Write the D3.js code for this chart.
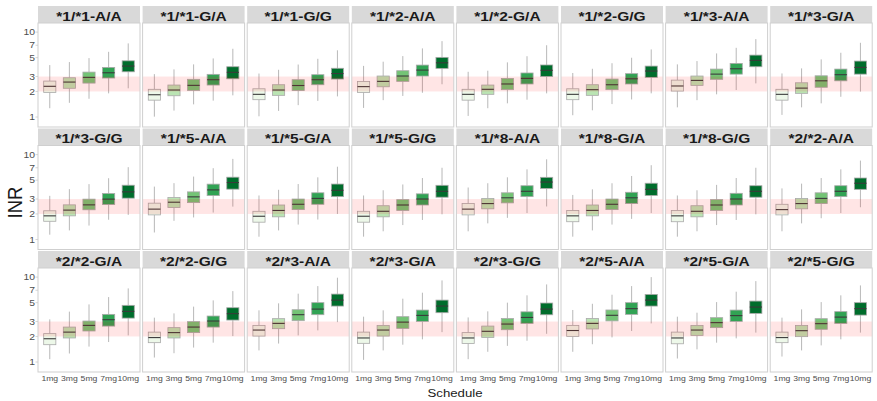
<!DOCTYPE html>
<html>
<head>
<meta charset="utf-8">
<script src="https://cdn.jsdelivr.net/npm/d3@7"></script>
<style>
  html, body { margin: 0; padding: 0; background: #ffffff; }
  svg { display: block; }
</style>
</head>
<body>
<svg id="chart" width="877" height="401"></svg>
<script>
// Genotype panels, in facet order (8 per row)
const panels = [
  "*1/*1-A/A", "*1/*1-G/A", "*1/*1-G/G", "*1/*2-A/A", "*1/*2-G/A", "*1/*2-G/G", "*1/*3-A/A", "*1/*3-G/A",
  "*1/*3-G/G", "*1/*5-A/A", "*1/*5-G/A", "*1/*5-G/G", "*1/*8-A/A", "*1/*8-G/A", "*1/*8-G/G", "*2/*2-A/A",
  "*2/*2-G/A", "*2/*2-G/G", "*2/*3-A/A", "*2/*3-G/A", "*2/*3-G/G", "*2/*5-A/A", "*2/*5-G/A", "*2/*5-G/G"
];
const doses = ["1mg", "3mg", "5mg", "7mg", "10mg"];
const yTicks = [1, 2, 3, 5, 7, 10];
const targetRange = [2, 3];

// Box statistics per panel (rows) and dose (columns): INR
const whiskerLow = [
  [1.27, 1.47, 1.64, 1.90, 2.18], [1.01, 1.19, 1.41, 1.56, 1.80], [1.02, 1.18, 1.38, 1.55, 1.75], [1.28, 1.58, 1.77, 1.93, 2.43],
  [1.03, 1.27, 1.45, 1.60, 1.90], [1.05, 1.20, 1.42, 1.61, 1.90], [1.30, 1.58, 1.85, 2.08, 2.49], [1.06, 1.30, 1.45, 1.73, 1.99],
  [1.14, 1.28, 1.46, 1.71, 1.95], [1.21, 1.66, 1.82, 2.08, 2.44], [1.08, 1.28, 1.50, 1.72, 2.00], [1.08, 1.25, 1.48, 1.70, 1.98],
  [1.25, 1.55, 1.80, 2.05, 2.45], [1.08, 1.28, 1.50, 1.75, 2.05], [1.08, 1.25, 1.48, 1.70, 1.98], [1.25, 1.55, 1.78, 2.05, 2.40],
  [1.08, 1.26, 1.52, 1.72, 2.06], [1.13, 1.27, 1.48, 1.69, 2.02], [1.37, 1.65, 2.06, 2.36, 2.95], [1.06, 1.37, 1.60, 1.85, 2.25],
  [1.08, 1.32, 1.55, 1.78, 2.15], [1.32, 1.62, 1.95, 2.32, 2.85], [1.10, 1.41, 1.69, 1.90, 2.22], [1.16, 1.37, 1.57, 1.85, 2.22]
];
const quartile1 = [
  [1.95, 2.18, 2.51, 2.88, 3.41], [1.58, 1.78, 2.06, 2.38, 2.82], [1.60, 1.80, 2.05, 2.40, 2.80], [1.95, 2.27, 2.63, 3.04, 3.74],
  [1.58, 1.85, 2.10, 2.45, 3.00], [1.60, 1.80, 2.10, 2.45, 2.93], [2.02, 2.36, 2.78, 3.20, 3.91], [1.58, 1.90, 2.24, 2.67, 3.20],
  [1.64, 1.90, 2.24, 2.58, 3.07], [1.95, 2.38, 2.72, 3.29, 3.92], [1.60, 1.85, 2.25, 2.60, 3.20], [1.60, 1.85, 2.20, 2.55, 3.15],
  [1.95, 2.30, 2.70, 3.20, 4.00], [1.62, 1.90, 2.25, 2.65, 3.30], [1.62, 1.85, 2.20, 2.55, 3.15], [1.95, 2.30, 2.65, 3.20, 3.90],
  [1.60, 1.92, 2.32, 2.65, 3.29], [1.69, 1.92, 2.22, 2.58, 3.12], [2.02, 2.47, 3.07, 3.61, 4.56], [1.66, 2.02, 2.49, 3.01, 3.81],
  [1.65, 1.95, 2.40, 2.85, 3.60], [2.00, 2.45, 3.05, 3.64, 4.56], [1.64, 2.06, 2.54, 3.01, 3.74], [1.69, 1.99, 2.43, 2.85, 3.57]
];
const median = [
  [2.30, 2.58, 2.93, 3.32, 3.98], [1.83, 2.08, 2.36, 2.75, 3.36], [1.85, 2.08, 2.35, 2.75, 3.25], [2.28, 2.63, 3.04, 3.57, 4.35],
  [1.85, 2.12, 2.45, 2.85, 3.55], [1.85, 2.10, 2.40, 2.82, 3.48], [2.32, 2.70, 3.20, 3.70, 4.65], [1.85, 2.19, 2.67, 3.15, 3.84],
  [1.90, 2.22, 2.56, 2.99, 3.64], [2.28, 2.75, 3.18, 3.84, 4.69], [1.88, 2.20, 2.60, 3.05, 3.80], [1.88, 2.15, 2.55, 3.00, 3.70],
  [2.28, 2.65, 3.10, 3.70, 4.75], [1.90, 2.20, 2.60, 3.10, 3.90], [1.90, 2.15, 2.55, 3.00, 3.70], [2.25, 2.65, 3.05, 3.70, 4.60],
  [1.88, 2.25, 2.70, 3.15, 3.95], [1.94, 2.22, 2.58, 3.04, 3.71], [2.38, 2.85, 3.61, 4.20, 5.36], [1.92, 2.38, 2.95, 3.54, 4.56],
  [1.92, 2.30, 2.80, 3.35, 4.20], [2.35, 2.85, 3.55, 4.25, 5.36], [1.92, 2.38, 2.91, 3.52, 4.44], [1.94, 2.34, 2.83, 3.38, 4.25]
];
const quartile3 = [
  [2.65, 2.90, 3.38, 3.84, 4.59], [2.12, 2.38, 2.78, 3.18, 3.91], [2.15, 2.40, 2.75, 3.15, 3.75], [2.62, 3.04, 3.51, 4.09, 5.04],
  [2.12, 2.38, 2.85, 3.30, 4.10], [2.15, 2.40, 2.80, 3.24, 3.98], [2.72, 3.04, 3.67, 4.28, 5.36], [2.12, 2.53, 3.06, 3.67, 4.56],
  [2.18, 2.56, 2.99, 3.48, 4.36], [2.68, 3.12, 3.64, 4.49, 5.42], [2.15, 2.55, 3.00, 3.55, 4.50], [2.15, 2.50, 2.95, 3.45, 4.35],
  [2.65, 3.05, 3.55, 4.30, 5.40], [2.20, 2.55, 3.00, 3.60, 4.60], [2.20, 2.50, 2.95, 3.50, 4.30], [2.60, 3.05, 3.55, 4.30, 5.30],
  [2.16, 2.58, 3.04, 3.64, 4.65], [2.25, 2.54, 2.99, 3.48, 4.36], [2.70, 3.24, 4.13, 5.00, 6.31], [2.25, 2.70, 3.42, 4.09, 5.36],
  [2.22, 2.65, 3.25, 3.90, 4.95], [2.70, 3.25, 4.10, 5.00, 6.25], [2.25, 2.70, 3.33, 4.09, 5.22], [2.25, 2.70, 3.24, 3.92, 5.00]
];
const whiskerHigh = [
  [4.09, 4.44, 4.94, 5.86, 7.36], [3.20, 3.64, 4.17, 4.90, 6.36], [3.25, 3.60, 4.15, 4.85, 6.10], [4.00, 4.48, 5.22, 6.43, 7.83],
  [3.41, 3.51, 4.40, 5.20, 7.00], [3.30, 3.70, 4.30, 4.99, 6.25], [4.17, 4.56, 5.61, 6.53, 8.27], [3.26, 3.74, 4.77, 5.71, 7.48],
  [3.27, 3.92, 4.49, 5.27, 7.11], [4.20, 4.61, 5.51, 6.92, 8.90], [3.30, 3.85, 4.50, 5.40, 7.20], [3.30, 3.80, 4.45, 5.30, 7.00],
  [4.10, 4.60, 5.40, 6.70, 8.80], [3.35, 3.90, 4.60, 5.60, 7.50], [3.30, 3.80, 4.40, 5.30, 7.00], [4.00, 4.55, 5.30, 6.70, 8.50],
  [3.18, 3.92, 4.77, 5.82, 7.36], [3.33, 3.74, 4.49, 5.32, 6.84], [4.06, 4.91, 6.38, 7.84, 9.84], [3.42, 4.06, 5.57, 6.55, 9.14],
  [3.35, 3.95, 5.00, 6.10, 8.20], [4.10, 4.85, 6.20, 7.84, 10.0], [3.42, 3.81, 5.08, 6.73, 8.97], [3.33, 4.17, 5.08, 6.10, 7.98]
];

const doseColors = ["#edf8e9", "#bae4b3", "#74c476", "#31a354", "#006d2c"];

// Layout of the facet grid
const nCols = 8;
const gridLeft = 38, colStep = 104.6, panelW = 102;
const firstStripTop = 6, rowStep = 122.5, stripH = 17, panelH = 104;
const SX = 1.15; // horizontal glyph stretch
const FONT = "'Liberation Sans', Arial, Helvetica, sans-serif";

const svg = d3.select("#chart");

const x = d3.scalePoint().domain(doses).range([0, panelW]).padding(0.6);
const y = d3.scaleLog().domain([0.763, 12.8]).range([panelH, 0]);
const boxW = x.step() * 0.62;

function stretched(sel, tx, ty, extra) {
  return sel.attr("transform", `translate(${tx},${ty}) scale(${SX},1)` + (extra || ""));
}

panels.forEach((name, i) => {
  const col = i % nCols, row = Math.floor(i / nCols);
  const left = gridLeft + col * colStep;
  const stripTop = firstStripTop + row * rowStep;
  const top = stripTop + stripH;

  // strip
  svg.append("rect")
    .attr("x", left).attr("y", stripTop)
    .attr("width", panelW).attr("height", stripH)
    .attr("fill", "#d9d9d9");
  stretched(svg.append("text"), left + panelW / 2, stripTop + 14.5)
    .attr("text-anchor", "middle")
    .attr("font-family", FONT).attr("font-weight", "bold").attr("font-size", 13.5)
    .attr("fill", "#1a1a1a")
    .text(name);

  const g = svg.append("g").attr("transform", `translate(${left},${top})`);
  g.append("rect").attr("width", panelW).attr("height", panelH).attr("fill", "#ffffff");

  // boxes
  doses.forEach((d, j) => {
    const cx = x(d);
    g.append("line")
      .attr("x1", cx).attr("x2", cx)
      .attr("y1", y(whiskerHigh[i][j])).attr("y2", y(quartile3[i][j]))
      .attr("stroke", "#a6a6a6").attr("stroke-width", 0.8);
    g.append("line")
      .attr("x1", cx).attr("x2", cx)
      .attr("y1", y(quartile1[i][j])).attr("y2", y(whiskerLow[i][j]))
      .attr("stroke", "#a6a6a6").attr("stroke-width", 0.8);
    g.append("rect")
      .attr("x", cx - boxW / 2).attr("width", boxW)
      .attr("y", y(quartile3[i][j]))
      .attr("height", y(quartile1[i][j]) - y(quartile3[i][j]))
      .attr("fill", doseColors[j])
      .attr("stroke", "#a9a9a9").attr("stroke-width", 0.8);
    g.append("line")
      .attr("x1", cx - boxW / 2).attr("x2", cx + boxW / 2)
      .attr("y1", y(median[i][j])).attr("y2", y(median[i][j]))
      .attr("stroke", "#3a3a3a").attr("stroke-width", 1.1);
  });

  // therapeutic range band
  g.append("rect")
    .attr("x", 0).attr("width", panelW)
    .attr("y", y(targetRange[1]))
    .attr("height", y(targetRange[0]) - y(targetRange[1]))
    .attr("fill", "#ff0000").attr("fill-opacity", 0.1);

  // panel border
  g.append("rect").attr("width", panelW).attr("height", panelH)
    .attr("fill", "none").attr("stroke", "#cfcfcf").attr("stroke-width", 1);

  // y axis on first column
  if (col === 0) {
    yTicks.forEach(t => {
      g.append("line").attr("x1", -2.5).attr("x2", 0).attr("y1", y(t)).attr("y2", y(t))
        .attr("stroke", "#cccccc").attr("stroke-width", 0.8);
      stretched(g.append("text"), -3, y(t) + 3.2)
        .attr("text-anchor", "end")
        .attr("font-family", FONT).attr("font-size", 9)
        .attr("fill", "#4d4d4d")
        .text(t);
    });
  }

  // x axis on bottom row
  if (row === 2) {
    doses.forEach(d => {
      stretched(g.append("text"), x(d), panelH + 8.5)
        .attr("text-anchor", "middle")
        .attr("font-family", FONT).attr("font-size", 7.5)
        .attr("fill", "#4d4d4d")
        .text(d);
    });
  }
});

// axis titles
stretched(svg.append("text"), 455, 396.5)
  .attr("text-anchor", "middle")
  .attr("font-family", FONT).attr("font-size", 11.5)
  .attr("fill", "#1a1a1a")
  .text("Schedule");

svg.append("text")
  .attr("transform", `translate(21.5,202.5) scale(1.12,1) rotate(-90)`)
  .attr("text-anchor", "middle")
  .attr("font-family", FONT).attr("font-size", 18.5)
  .attr("fill", "#1a1a1a")
  .text("INR");
</script>
</body>
</html>
